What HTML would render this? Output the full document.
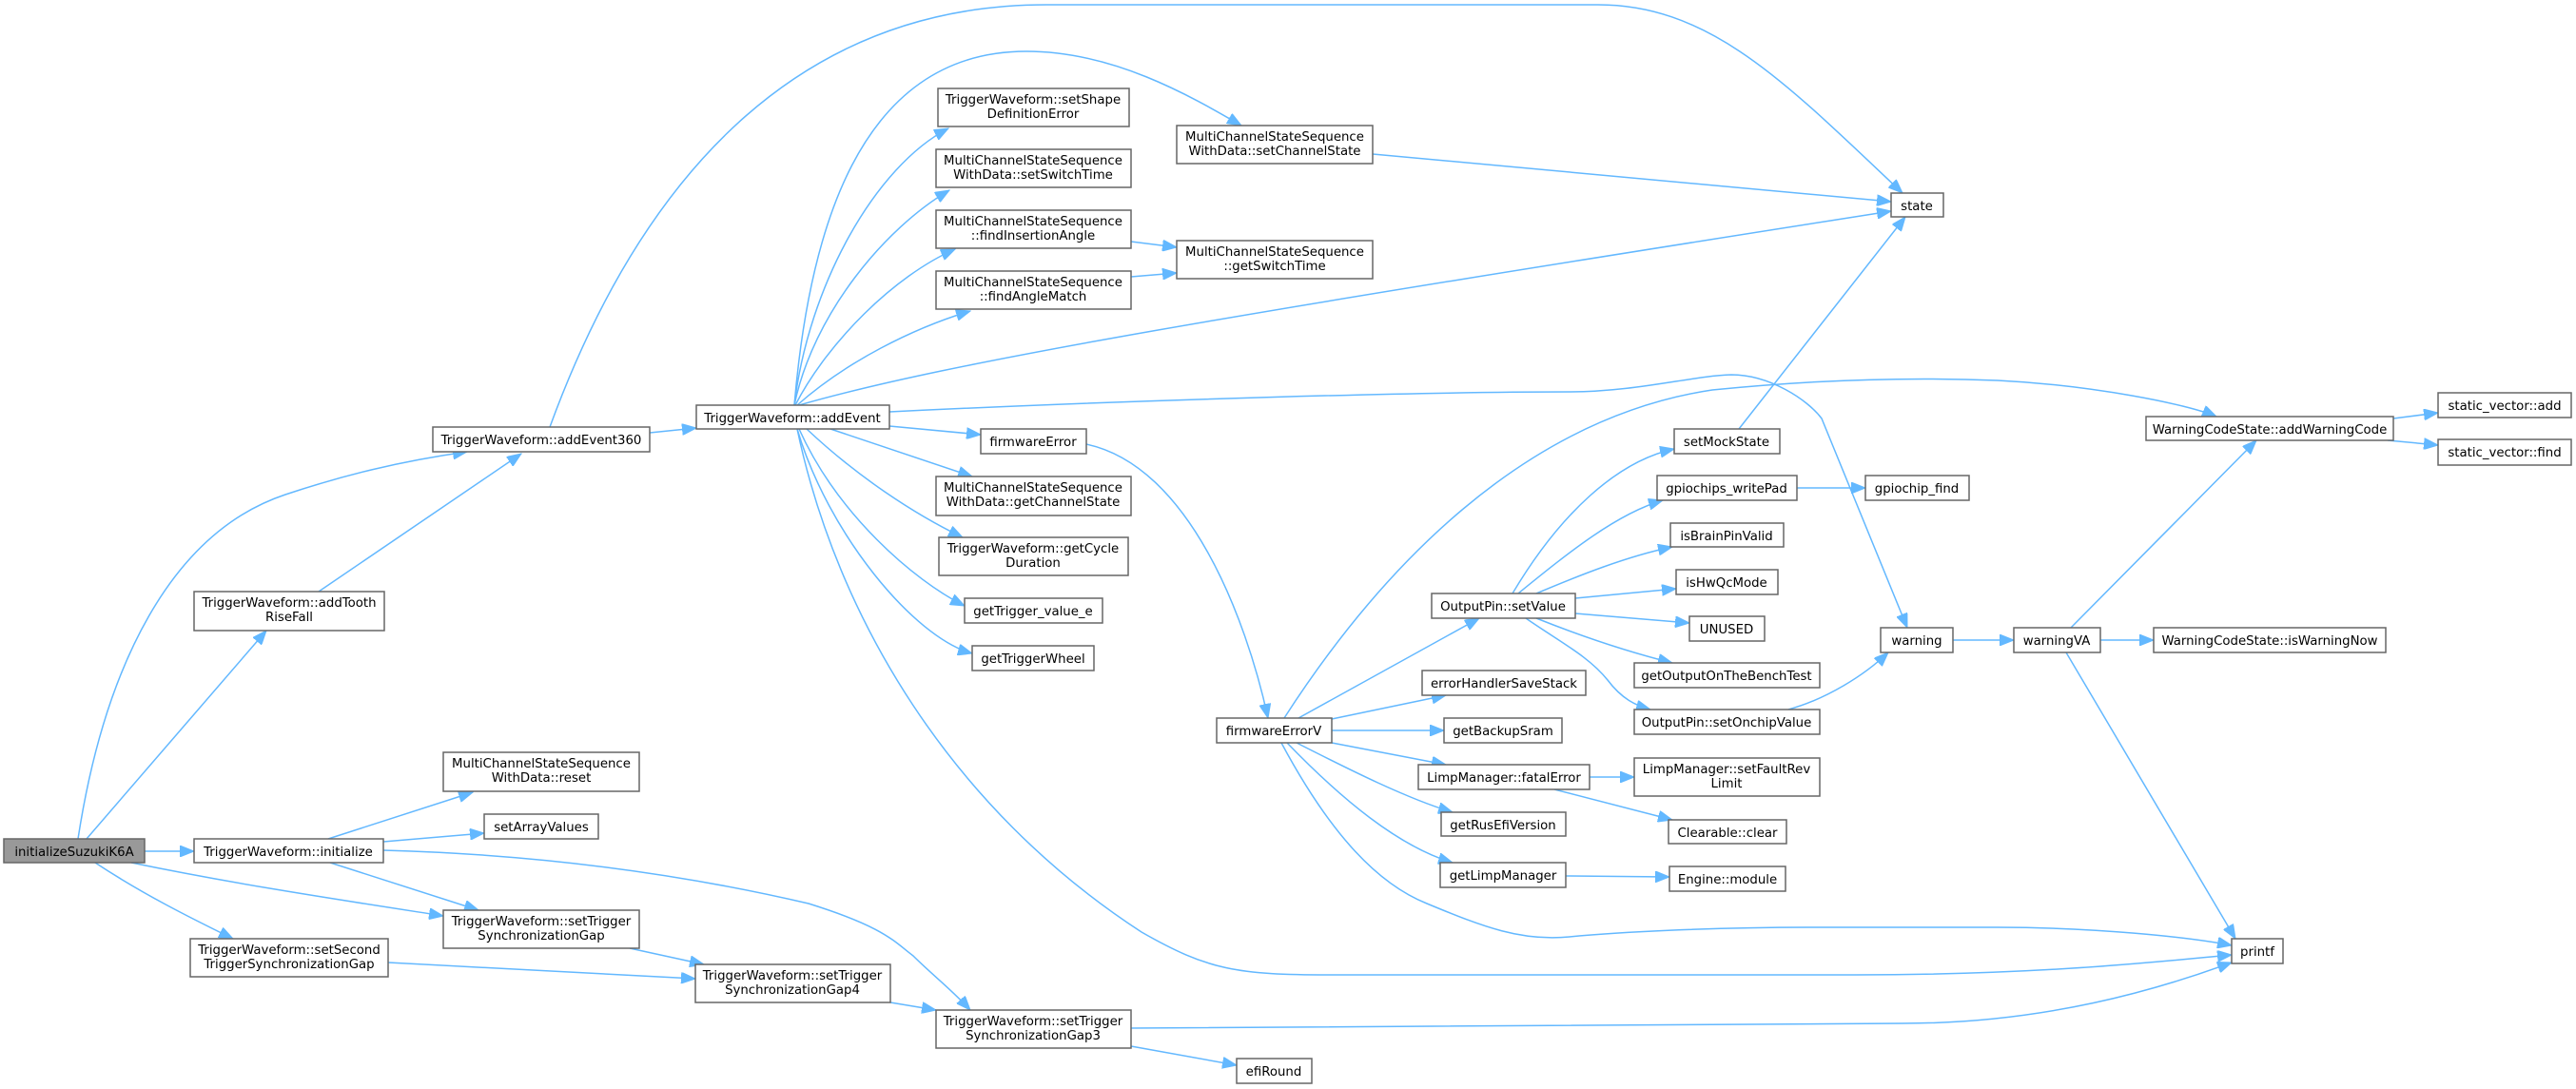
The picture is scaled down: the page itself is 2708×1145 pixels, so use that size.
<!DOCTYPE html>
<html><head><meta charset="utf-8"><style>
html,body{margin:0;padding:0;background:#fff;}
svg{display:block;}
text{font-family:"DejaVu Sans","Liberation Sans",sans-serif;font-size:13.3px;fill:#000;text-anchor:middle;}
.n{fill:#fff;stroke:#666;stroke-width:1.5;}
.e{fill:none;stroke:#63b8ff;stroke-width:1.5;}
</style></head><body>
<svg width="2708" height="1145" viewBox="0 0 2708 1145" xmlns="http://www.w3.org/2000/svg">
<defs>
<marker id="a" markerUnits="userSpaceOnUse" markerWidth="16" markerHeight="12" refX="15" refY="6" orient="auto">
<path d="M0,0 L15,6 L0,12 z" fill="#63b8ff" stroke="#63b8ff"/>
</marker>
</defs>
<g marker-end="url(#a)">
<path class="e" d="M82,882 C110,700 180,560 300,520 C360,500 420,485 491,475"/>
<path class="e" d="M91,882 L280,663"/>
<path class="e" d="M152,895 L204,895"/>
<path class="e" d="M138,907 C250,930 350,945 466,963"/>
<path class="e" d="M100,907 C150,940 200,965 245,987"/>
<path class="e" d="M335,622 L548,477"/>
<path class="e" d="M683,455 L732,450"/>
<path class="e" d="M578,449 C680,170 850,5 1100,5 L1680,5 C1800,5 1880,90 2000,203"/>
<path class="e" d="M345,882 L497,833"/>
<path class="e" d="M403,885 L509,876"/>
<path class="e" d="M347,907 L503,957"/>
<path class="e" d="M403,894 C550,898 700,915 850,950 C930,975 940,990 960,1005 C980,1025 1000,1040 1020,1062"/>
<path class="e" d="M662,997 L740,1014"/>
<path class="e" d="M408,1012 L731,1029"/>
<path class="e" d="M936,1054 L984,1062"/>
<path class="e" d="M1189,1081 L2000,1076 C2150,1076 2270,1040 2346,1012"/>
<path class="e" d="M1189,1100 L1300,1120"/>
<path class="e" d="M835,426 C850,300 920,175 997,135"/>
<path class="e" d="M835,426 C855,330 930,240 998,200"/>
<path class="e" d="M836,426 C870,360 940,290 1004,262"/>
<path class="e" d="M838,426 C890,380 960,345 1020,327"/>
<path class="e" d="M835,426 C850,250 900,54 1079,54 C1170,54 1250,100 1305,132"/>
<path class="e" d="M840,426 C1000,380 1300,330 1988,222"/>
<path class="e" d="M935,448 L1031,457"/>
<path class="e" d="M873,451 L1022,501"/>
<path class="e" d="M848,451 C900,500 960,540 1012,565"/>
<path class="e" d="M840,451 C880,540 960,610 1014,637"/>
<path class="e" d="M838,451 C870,560 960,670 1022,687"/>
<path class="e" d="M838,451 C880,650 1000,850 1200,980 C1270,1020 1300,1025 1400,1025 L1950,1025 C2150,1025 2280,1010 2346,1004"/>
<path class="e" d="M935,433 C1200,420 1500,412 1650,412 C1720,412 1780,395 1820,394 C1860,394 1900,420 1915,440 L2005,660"/>
<path class="e" d="M1189,254 L1237,260"/>
<path class="e" d="M1189,291 L1237,287"/>
<path class="e" d="M1443,162 L1988,212"/>
<path class="e" d="M1142,467 C1250,490 1310,650 1333,755"/>
<path class="e" d="M1365,755 L1555,650"/>
<path class="e" d="M1400,756 L1520,731"/>
<path class="e" d="M1400,768 L1518,768"/>
<path class="e" d="M1400,781 L1520,804"/>
<path class="e" d="M1363,781 C1420,810 1480,840 1527,854"/>
<path class="e" d="M1353,781 C1410,840 1470,890 1527,907"/>
<path class="e" d="M1347,781 C1400,880 1450,930 1500,950 C1560,975 1600,990 1650,985 C1700,980 1800,975 1900,975 L2100,975 C2200,975 2300,985 2346,994"/>
<path class="e" d="M1350,755 C1450,600 1600,440 1800,410 C1900,400 2000,396 2100,400 C2200,405 2300,425 2330,438"/>
<path class="e" d="M1590,624 C1640,540 1700,485 1760,472"/>
<path class="e" d="M1596,624 C1650,580 1700,540 1748,526"/>
<path class="e" d="M1615,624 C1660,605 1710,585 1758,575"/>
<path class="e" d="M1656,629 L1762,619"/>
<path class="e" d="M1656,645 L1776,655"/>
<path class="e" d="M1615,650 C1660,668 1710,685 1758,697"/>
<path class="e" d="M1604,650 C1640,675 1670,690 1690,715 C1705,735 1720,742 1735,746"/>
<path class="e" d="M1880,746 C1920,735 1960,710 1985,686"/>
<path class="e" d="M1889,513 L1961,513"/>
<path class="e" d="M1671,817 L1718,817"/>
<path class="e" d="M1634,830 L1758,862"/>
<path class="e" d="M1646,921 L1755,922"/>
<path class="e" d="M1828,451 L2003,228"/>
<path class="e" d="M2053,673 L2117,673"/>
<path class="e" d="M2208,673 L2264,673"/>
<path class="e" d="M2177,660 L2372,463"/>
<path class="e" d="M2172,686 L2350,987"/>
<path class="e" d="M2516,440 L2563,434"/>
<path class="e" d="M2510,463 L2563,468"/>
</g>
<rect x="4" y="882" width="148" height="25" fill="#999" stroke="#666" stroke-width="1.5"/><text x="78" y="900">initializeSuzukiK6A</text>
<rect class="n" x="455" y="449" width="228" height="26"/><text x="569" y="467">TriggerWaveform::addEvent360</text>
<rect class="n" x="732" y="426" width="203" height="25"/><text x="833" y="444">TriggerWaveform::addEvent</text>
<rect class="n" x="204" y="622" width="200" height="41"/><text x="304" y="638">TriggerWaveform::addTooth</text><text x="304" y="653">RiseFall</text>
<rect class="n" x="204" y="882" width="199" height="25"/><text x="303" y="900">TriggerWaveform::initialize</text>
<rect class="n" x="466" y="791" width="206" height="41"/><text x="569" y="807">MultiChannelStateSequence</text><text x="569" y="822">WithData::reset</text>
<rect class="n" x="509" y="856" width="120" height="26"/><text x="569" y="874">setArrayValues</text>
<rect class="n" x="466" y="957" width="206" height="40"/><text x="569" y="973">TriggerWaveform::setTrigger</text><text x="569" y="988">SynchronizationGap</text>
<rect class="n" x="200" y="987" width="208" height="40"/><text x="304" y="1003">TriggerWaveform::setSecond</text><text x="304" y="1018">TriggerSynchronizationGap</text>
<rect class="n" x="731" y="1014" width="205" height="40"/><text x="833" y="1030">TriggerWaveform::setTrigger</text><text x="833" y="1045">SynchronizationGap4</text>
<rect class="n" x="984" y="1062" width="205" height="40"/><text x="1086" y="1078">TriggerWaveform::setTrigger</text><text x="1086" y="1093">SynchronizationGap3</text>
<rect class="n" x="1300" y="1113" width="79" height="26"/><text x="1339" y="1131">efiRound</text>
<rect class="n" x="986" y="93" width="201" height="40"/><text x="1086" y="109">TriggerWaveform::setShape</text><text x="1086" y="124">DefinitionError</text>
<rect class="n" x="984" y="157" width="205" height="40"/><text x="1086" y="173">MultiChannelStateSequence</text><text x="1086" y="188">WithData::setSwitchTime</text>
<rect class="n" x="984" y="221" width="205" height="40"/><text x="1086" y="237">MultiChannelStateSequence</text><text x="1086" y="252">::findInsertionAngle</text>
<rect class="n" x="984" y="285" width="205" height="40"/><text x="1086" y="301">MultiChannelStateSequence</text><text x="1086" y="316">::findAngleMatch</text>
<rect class="n" x="1237" y="132" width="206" height="40"/><text x="1340" y="148">MultiChannelStateSequence</text><text x="1340" y="163">WithData::setChannelState</text>
<rect class="n" x="1237" y="253" width="206" height="40"/><text x="1340" y="269">MultiChannelStateSequence</text><text x="1340" y="284">::getSwitchTime</text>
<rect class="n" x="1031" y="451" width="111" height="26"/><text x="1086" y="469">firmwareError</text>
<rect class="n" x="984" y="501" width="205" height="41"/><text x="1086" y="517">MultiChannelStateSequence</text><text x="1086" y="532">WithData::getChannelState</text>
<rect class="n" x="987" y="565" width="199" height="40"/><text x="1086" y="581">TriggerWaveform::getCycle</text><text x="1086" y="596">Duration</text>
<rect class="n" x="1014" y="629" width="145" height="26"/><text x="1086" y="647">getTrigger_value_e</text>
<rect class="n" x="1022" y="679" width="128" height="26"/><text x="1086" y="697">getTriggerWheel</text>
<rect class="n" x="1988" y="203" width="55" height="25"/><text x="2015" y="221">state</text>
<rect class="n" x="1279" y="755" width="121" height="26"/><text x="1339" y="773">firmwareErrorV</text>
<rect class="n" x="1505" y="624" width="151" height="26"/><text x="1580" y="642">OutputPin::setValue</text>
<rect class="n" x="1495" y="705" width="172" height="26"/><text x="1581" y="723">errorHandlerSaveStack</text>
<rect class="n" x="1518" y="755" width="124" height="26"/><text x="1580" y="773">getBackupSram</text>
<rect class="n" x="1491" y="804" width="180" height="26"/><text x="1581" y="822">LimpManager::fatalError</text>
<rect class="n" x="1515" y="854" width="131" height="25"/><text x="1580" y="872">getRusEfiVersion</text>
<rect class="n" x="1514" y="907" width="132" height="26"/><text x="1580" y="925">getLimpManager</text>
<rect class="n" x="1760" y="451" width="111" height="26"/><text x="1815" y="469">setMockState</text>
<rect class="n" x="1742" y="500" width="147" height="26"/><text x="1815" y="518">gpiochips_writePad</text>
<rect class="n" x="1756" y="550" width="119" height="25"/><text x="1815" y="568">isBrainPinValid</text>
<rect class="n" x="1762" y="599" width="107" height="26"/><text x="1815" y="617">isHwQcMode</text>
<rect class="n" x="1776" y="648" width="79" height="26"/><text x="1815" y="666">UNUSED</text>
<rect class="n" x="1718" y="697" width="195" height="26"/><text x="1815" y="715">getOutputOnTheBenchTest</text>
<rect class="n" x="1718" y="746" width="195" height="26"/><text x="1815" y="764">OutputPin::setOnchipValue</text>
<rect class="n" x="1718" y="797" width="195" height="40"/><text x="1815" y="813">LimpManager::setFaultRev</text><text x="1815" y="828">Limit</text>
<rect class="n" x="1754" y="862" width="124" height="25"/><text x="1816" y="880">Clearable::clear</text>
<rect class="n" x="1755" y="911" width="122" height="26"/><text x="1816" y="929">Engine::module</text>
<rect class="n" x="1961" y="500" width="109" height="26"/><text x="2015" y="518">gpiochip_find</text>
<rect class="n" x="1977" y="660" width="76" height="26"/><text x="2015" y="678">warning</text>
<rect class="n" x="2117" y="660" width="91" height="26"/><text x="2162" y="678">warningVA</text>
<rect class="n" x="2264" y="660" width="244" height="26"/><text x="2386" y="678">WarningCodeState::isWarningNow</text>
<rect class="n" x="2256" y="438" width="260" height="25"/><text x="2386" y="456">WarningCodeState::addWarningCode</text>
<rect class="n" x="2563" y="413" width="140" height="26"/><text x="2633" y="431">static_vector::add</text>
<rect class="n" x="2563" y="462" width="140" height="27"/><text x="2633" y="480">static_vector::find</text>
<rect class="n" x="2346" y="987" width="54" height="26"/><text x="2373" y="1005">printf</text>
</svg>
</body></html>
